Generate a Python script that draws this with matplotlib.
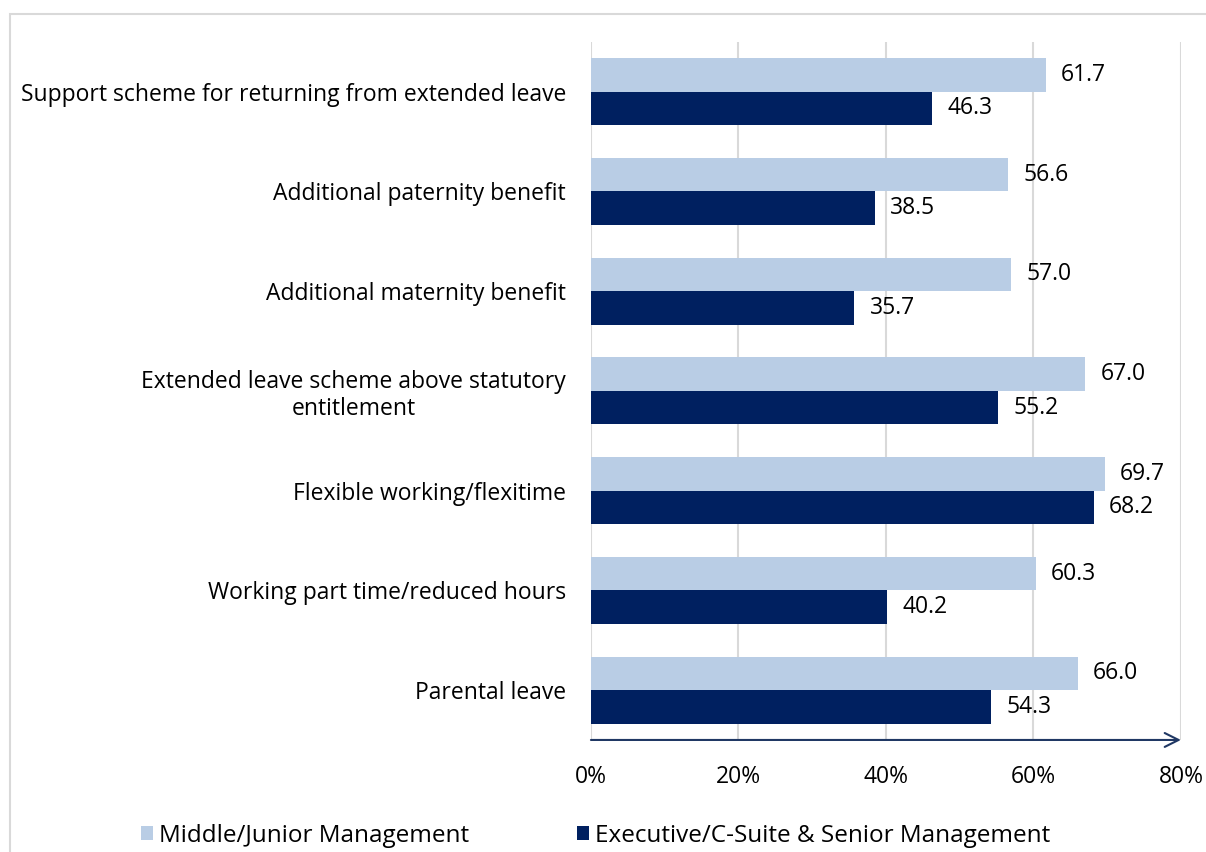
import numpy as np
import matplotlib.pyplot as plt
from matplotlib.patches import Rectangle

categories = ['Support scheme for returning from extended leave',
              'Additional paternity benefit',
              'Additional maternity benefit',
              'Extended leave scheme above statutory\nentitlement',
              'Flexible working/flexitime',
              'Working part time/reduced hours',
              'Parental leave']
middle = [61.7, 56.6, 57.0, 67.0, 69.7, 60.3, 66.0]
senior = [46.3, 38.5, 35.7, 55.2, 68.2, 40.2, 54.3]
series_names = ['Middle/Junior Management', 'Executive/C-Suite & Senior Management']
xticks = [0, 20, 40, 60, 80]

light = '#B9CDE5'
dark = '#002060'
grid = '#D9D9D9'
fs = 16.5

plt.rcParams['font.family'] = ['Open Sans', 'DejaVu Sans']

fig = plt.figure(figsize=(12.06, 8.52), dpi=100)
ax = fig.add_axes([0.49, 0.1315, 0.4892, 0.8195])

# light gray frame around the chart area
fig.patches.append(Rectangle((10 / 1206, -0.05), 1.1, 1 - 14 / 852 + 0.05,
                             transform=fig.transFigure, fill=False,
                             edgecolor=grid, linewidth=1.5))

y = np.arange(len(categories))
h = 0.335
b1 = ax.barh(y - h / 2, middle, height=h, color=light, label=series_names[0], zorder=2)
b2 = ax.barh(y + h / 2, senior, height=h, color=dark, label=series_names[1], zorder=2)

for bars, vals in ((b1, middle), (b2, senior)):
    for bar, v in zip(bars, vals):
        ax.annotate('%.1f' % v, (v, bar.get_y() + bar.get_height() / 2),
                    xytext=(11, 0), textcoords='offset points',
                    va='center', ha='left', fontsize=fs, color='black')

ax.set_ylim(len(categories) - 0.5, -0.5)
ax.set_xlim(0, 80)
ax.set_yticks(y)
ax.set_yticklabels(categories, fontsize=fs, color='black', ha='right',
                   multialignment='center')
ax.tick_params(axis='y', length=0, pad=18)
ax.set_xticks(xticks)
ax.set_xticklabels(['%d%%' % t for t in xticks], fontsize=fs, color='black')
ax.tick_params(axis='x', length=0, pad=18)
ax.grid(axis='x', color=grid, linewidth=1.5, zorder=0)
for s in ax.spines.values():
    s.set_visible(False)

# x axis drawn as an arrow
ax.annotate('', xy=(1.0, 0), xytext=(0, 0), xycoords='axes fraction',
            arrowprops=dict(arrowstyle='->', color='#203864', lw=1.5,
                            mutation_scale=25, shrinkA=0, shrinkB=0))

fig.legend(handles=[b1, b2], loc='lower left', bbox_to_anchor=(0.099, -0.021),
           ncol=2, frameon=False, fontsize=17.5, handlelength=0.5,
           handleheight=0.5, handletextpad=0.25, columnspacing=4.4)

fig.savefig('out.png', dpi=100)
